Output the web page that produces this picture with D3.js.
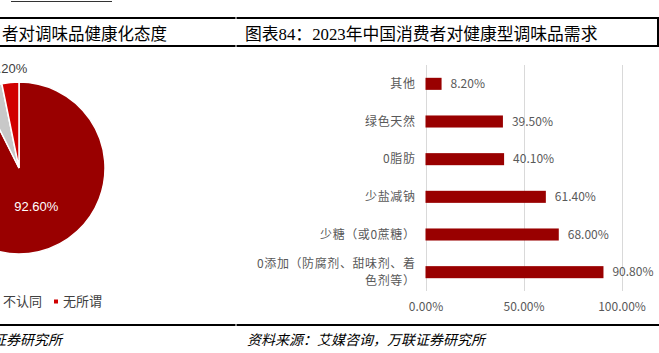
<!DOCTYPE html>
<html>
<head>
<meta charset="utf-8">
<script src="https://cdn.jsdelivr.net/npm/d3@7"></script>
<style>
  body { margin: 0; background: #fff; }
  svg { display: block; }
</style>
</head>
<body>
<svg id="drawing_region"></svg>
<script>
// left pie (only partly visible in the crop)
const pieNames = ['认同', '不认同', '无所谓'];
const pieValues = [92.6, 4.2, 3.2];
const pieColors = ['#990000', '#c8c8c8', '#d00000'];

// right bar chart
const categories = ['其他', '绿色天然', '0脂肪', '少盐减钠', '少糖（或0蔗糖）', '0添加（防腐剂、甜味剂、着色剂等）'];
const values = [8.2, 39.5, 40.1, 61.4, 68.0, 90.8];
const xTicks = [0, 50, 100];

const titleLeft = '者对调味品健康化态度';
const titleRight = '图表84：2023年中国消费者对健康型调味品需求';
const sourceText = '资料来源：艾媒咨询，万联证券研究所';

const W = 659, H = 353;
const grey = '#595959';
const cjk = '"Noto Sans CJK SC", "Noto Sans", sans-serif';
const serif = '"Liberation Serif", "Noto Sans CJK SC", serif';

const svg = d3.select('#drawing_region')
  .attr('width', W)
  .attr('height', H);

// ---- frame lines of the report table
svg.append('line').attr('x1', 11).attr('x2', 112).attr('y1', 1.5).attr('y2', 1.5)
  .attr('stroke', '#333').attr('stroke-width', 1);
[18, 46, 325].forEach(y => {
  svg.append('line').attr('x1', 0).attr('x2', 235.5).attr('y1', y).attr('y2', y)
    .attr('stroke', '#000').attr('stroke-width', 2);
  svg.append('line').attr('x1', 236.5).attr('x2', W).attr('y1', y).attr('y2', y)
    .attr('stroke', '#000').attr('stroke-width', 2);
});
svg.append('line').attr('x1', 658).attr('x2', 658).attr('y1', 17).attr('y2', 47)
  .attr('stroke', '#000').attr('stroke-width', 2);

svg.append('text').attr('x', 2).attr('y', 39.5)
  .attr('font-family', serif).attr('font-size', 16.5).attr('fill', '#000')
  .text(titleLeft);
svg.append('text').attr('x', 245).attr('y', 39.5)
  .attr('font-family', serif).attr('font-size', 16.8).attr('fill', '#000')
  .text(titleRight);

svg.append('text').attr('x', 247).attr('y', 345)
  .attr('font-family', cjk).attr('font-size', 14).attr('font-style', 'italic')
  .attr('fill', '#000').text(sourceText);
svg.append('text').attr('x', 62).attr('y', 345).attr('text-anchor', 'end')
  .attr('font-family', cjk).attr('font-size', 14).attr('font-style', 'italic')
  .attr('fill', '#000').text('万联证券研究所');

// ---- pie
const pc = { cx: 19, cy: 168, r: 86 };
const pieG = svg.append('g').attr('transform', `translate(${pc.cx},${pc.cy})`);
const arcs = d3.pie().sort(null).value(d => d)(pieValues);
const arc = d3.arc().innerRadius(0).outerRadius(pc.r);
pieG.selectAll('path')
  .data(arcs)
  .join('path')
  .attr('d', arc)
  .attr('fill', (d, i) => pieColors[i])
  .attr('stroke', '#fff')
  .attr('stroke-width', 1.5);

const labelRadius = [40, 120, 100];
pieG.selectAll('text')
  .data(arcs)
  .join('text')
  .attr('transform', (d, i) => {
    const a = (d.startAngle + d.endAngle) / 2;
    const r = labelRadius[i];
    const dx = i === 0 ? 8 : 0;
    return `translate(${r * Math.sin(a) + dx},${-r * Math.cos(a)})`;
  })
  .attr('text-anchor', 'middle')
  .attr('dy', '0.35em')
  .attr('font-family', '"Liberation Sans", sans-serif')
  .attr('font-size', 13)
  .attr('fill', (d, i) => i === 0 ? '#fff' : '#404040')
  .text(d => d3.format('.2f')(d.data) + '%');

// legend, laid out from the right so the last marker sits at x=54
const legendG = svg.append('g').attr('transform', 'translate(0,301.5)');
const items = legendG.selectAll('g')
  .data(pieNames)
  .join('g');
items.append('rect')
  .attr('width', 4).attr('height', 4).attr('y', -2)
  .attr('fill', (d, i) => pieColors[i]);
items.append('text')
  .attr('x', 9).attr('dy', '0.35em')
  .attr('font-family', cjk).attr('font-size', 13).attr('fill', '#404040')
  .text(d => d);
let offs = [], acc = 0;
items.each(function() {
  offs.push(acc);
  acc += 9 + d3.select(this).select('text').node().getComputedTextLength() + 12;
});
const shift = 54 - offs[offs.length - 1];
items.attr('transform', (d, i) => `translate(${offs[i] + shift},0)`);

// ---- bar chart
const bc = { left: 425.5, right: 621.5, top: 65, bottom: 291 };

const x = d3.scaleLinear()
  .domain([0, 100])
  .range([bc.left, bc.right]);

const y = d3.scaleBand()
  .domain(categories)
  .range([bc.top, bc.bottom])
  .paddingInner(0.68)
  .paddingOuter(0.34);

svg.append('g').selectAll('line')
  .data(xTicks)
  .join('line')
  .attr('x1', d => Math.round(x(d)) + 0.5)
  .attr('x2', d => Math.round(x(d)) + 0.5)
  .attr('y1', bc.top)
  .attr('y2', bc.bottom)
  .attr('stroke', '#d9d9d9');

const xAxis = d3.axisBottom(x)
  .tickValues(xTicks)
  .tickSize(0)
  .tickPadding(11)
  .tickFormat(d => d3.format('.2f')(d) + '%');
const xg = svg.append('g')
  .attr('transform', `translate(0,${bc.bottom})`)
  .call(xAxis);
xg.select('.domain').remove();
xg.selectAll('text')
  .attr('font-family', cjk).attr('font-size', 12).attr('fill', grey);

svg.append('g').selectAll('rect')
  .data(values)
  .join('rect')
  .attr('x', x(0))
  .attr('y', (d, i) => y(categories[i]))
  .attr('width', d => x(d) - x(0))
  .attr('height', y.bandwidth())
  .attr('fill', '#990000');

svg.append('g').selectAll('text')
  .data(values)
  .join('text')
  .attr('x', d => x(d) + 9)
  .attr('y', (d, i) => y(categories[i]) + y.bandwidth() / 2)
  .attr('dy', '0.35em')
  .attr('font-family', cjk).attr('font-size', 12).attr('fill', grey)
  .text(d => d3.format('.2f')(d) + '%');

// category labels, wrapped when too long
const labelX = bc.left - 10;
const lineH = 16.5;
svg.append('g').selectAll('text')
  .data(categories)
  .join('text')
  .attr('x', labelX)
  .attr('y', d => y(d) + y.bandwidth() / 2)
  .attr('text-anchor', 'end')
  .attr('font-family', cjk).attr('font-size', 12)
  .attr('letter-spacing', 0.6)
  .attr('fill', grey)
  .each(function(d) {
    const t = d3.select(this);
    const probe = t.append('tspan');
    let lines = [], line = '';
    for (const c of Array.from(d)) {
      probe.text(line + c);
      if (probe.node().getComputedTextLength() > 162 && line) {
        lines.push(line);
        line = c;
      } else {
        line += c;
      }
    }
    lines.push(line);
    probe.remove();
    lines.forEach((l, i) => {
      t.append('tspan')
        .attr('x', labelX)
        .attr('dy', i === 0 ? (-(lines.length - 1) / 2 * lineH + 4.2) : lineH)
        .text(l);
    });
  });
</script>
</body>
</html>
